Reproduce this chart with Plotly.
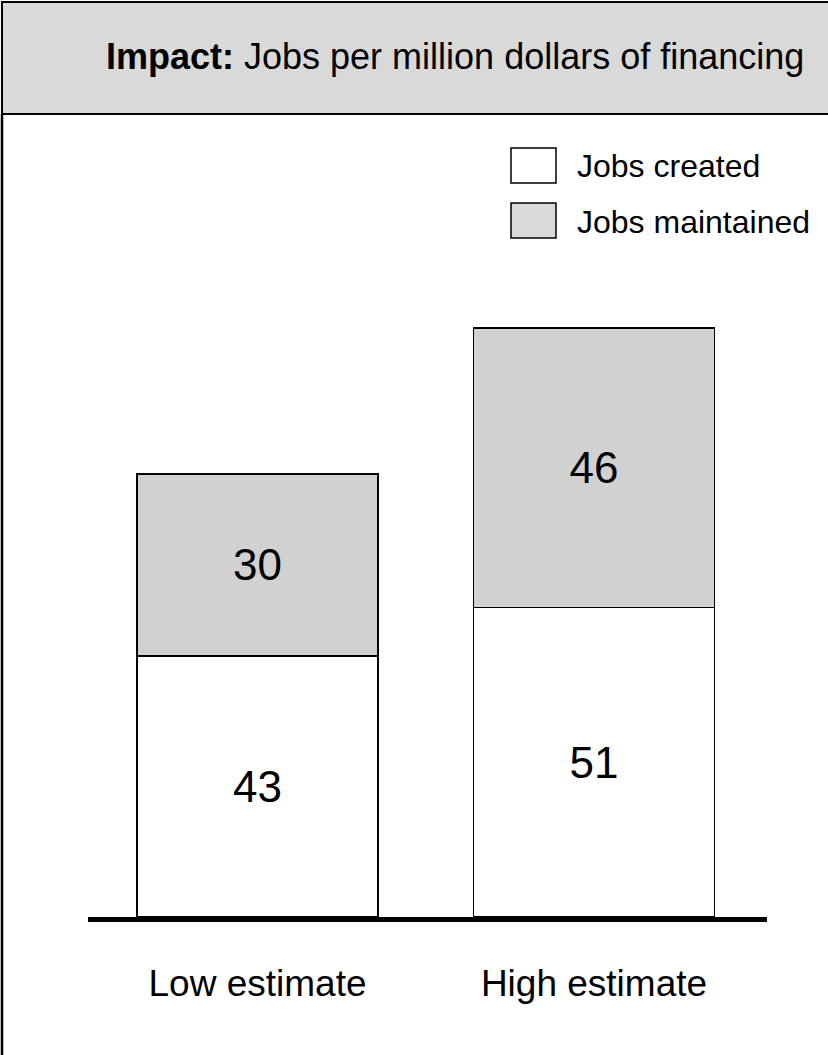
import plotly.graph_objects as go

categories = ["Low estimate", "High estimate"]
jobs_created = [43, 51]
jobs_maintained = [30, 46]
series_names = ["Jobs created", "Jobs maintained"]
title_bold = "Impact:"
title_rest = " Jobs per million dollars of financing"

FONT = "Liberation Sans, Arial, sans-serif"
W, H = 828, 1055
ML, MR, MB, MT = 88, 61, 138, 0
PX_PER_UNIT = 6.07
ymax = (H - MB - MT) / PX_PER_UNIT
CAT_PX = 336.5
X0_PX = 257.5
x_lo = -(X0_PX - ML) / CAT_PX
x_hi = (W - MR - X0_PX) / CAT_PX

fig = go.Figure()
fig.add_trace(go.Bar(
    x=categories, y=jobs_created, name=series_names[0],
    marker=dict(color="#ffffff", line=dict(color="#000000", width=1.5)),
    text=[str(v) for v in jobs_created], textposition="inside",
    insidetextanchor="middle", textangle=0,
    textfont=dict(family=FONT, size=44, color="#000000"),
))
fig.add_trace(go.Bar(
    x=categories, y=jobs_maintained, name=series_names[1],
    marker=dict(color="#d1d1d1", line=dict(color="#000000", width=1.5)),
    text=[str(v) for v in jobs_maintained], textposition="inside",
    insidetextanchor="middle", textangle=0,
    textfont=dict(family=FONT, size=44, color="#000000"),
))

def px_x(p):
    return (p - ML) / (W - ML - MR)

def px_y(p):
    return (H - MB - p) / (H - MB - MT)

shapes = [
    dict(type="rect", xref="paper", yref="paper",
         x0=px_x(2), x1=px_x(840), y0=px_y(114), y1=px_y(2),
         fillcolor="#d9d9d9", line=dict(color="#000000", width=2), layer="below"),
    dict(type="line", xref="paper", yref="paper",
         x0=px_x(2), x1=px_x(2), y0=px_y(114), y1=px_y(1060),
         line=dict(color="#000000", width=2.5)),
    dict(type="rect", xref="paper", yref="paper",
         x0=px_x(511), x1=px_x(556), y0=px_y(183), y1=px_y(148),
         fillcolor="#ffffff", line=dict(color="#000000", width=1.5)),
    dict(type="rect", xref="paper", yref="paper",
         x0=px_x(511), x1=px_x(556), y0=px_y(238), y1=px_y(203),
         fillcolor="#d9d9d9", line=dict(color="#000000", width=1.5)),
]

annotations = [
    dict(xref="paper", yref="paper", x=px_x(455), y=px_y(57),
         text=f"<b>{title_bold}</b>{title_rest}", showarrow=False,
         xanchor="center", yanchor="middle",
         font=dict(family=FONT, size=36, color="#000000")),
    dict(xref="paper", yref="paper", x=px_x(575), y=px_y(166),
         text=series_names[0], showarrow=False, xanchor="left", yanchor="middle",
         font=dict(family=FONT, size=32, color="#000000")),
    dict(xref="paper", yref="paper", x=px_x(575), y=px_y(222),
         text=series_names[1], showarrow=False, xanchor="left", yanchor="middle",
         font=dict(family=FONT, size=32, color="#000000")),
]

fig.update_layout(
    width=W, height=H,
    margin=dict(l=ML, r=MR, t=MT, b=MB, pad=0),
    paper_bgcolor="#ffffff", plot_bgcolor="#ffffff",
    barmode="stack", bargap=0.284, showlegend=False,
    shapes=shapes, annotations=annotations,
    xaxis=dict(type="category", range=[x_lo, x_hi], showgrid=False, zeroline=False,
               showline=True, linecolor="#000000", linewidth=5,
               ticks="", ticklabelstandoff=30,
               tickfont=dict(family=FONT, size=37, color="#000000")),
    yaxis=dict(range=[0, ymax], showgrid=False, zeroline=False,
               showline=False, showticklabels=False, ticks=""),
)

fig.write_html("out.html")
